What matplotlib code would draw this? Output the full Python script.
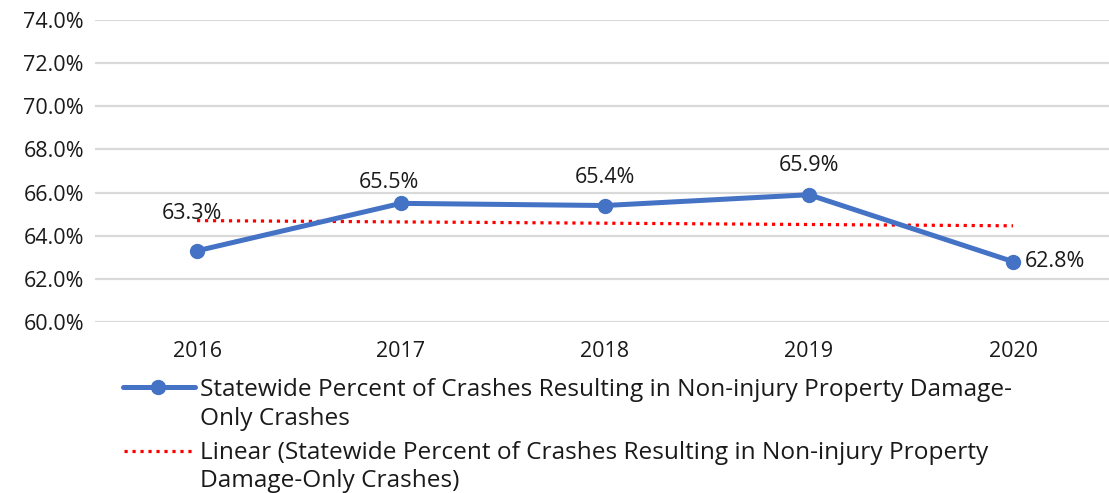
import matplotlib
matplotlib.use('Agg')
import matplotlib.pyplot as plt
from matplotlib.lines import Line2D
import numpy as np

plt.rcParams['font.family'] = ['Open Sans', 'DejaVu Sans']

years = ['2016', '2017', '2018', '2019', '2020']
pct = [63.3, 65.5, 65.4, 65.9, 62.8]
y_ticks = [60, 62, 64, 66, 68, 70, 72, 74]
series_label = ['Statewide Percent of Crashes Resulting in Non-injury Property Damage-',
                'Only Crashes']
trend_label = ['Linear (Statewide Percent of Crashes Resulting in Non-injury Property',
               'Damage-Only Crashes)']

BLUE = '#4472C4'
RED = '#FF0000'
TXT = '#1a1a1a'
DOTS = (0, (1, 1.5))

W, H = 1109, 493
fig = plt.figure(figsize=(W / 100, H / 100), dpi=100)
ax = fig.add_axes([95 / W, 1 - 322 / H, 1020 / W, 302 / H])

x = np.arange(len(years))
ax.plot(x, pct, color=BLUE, linewidth=3.6, marker='o', markersize=10,
        solid_capstyle='round', zorder=3)

# linear trend fitted to the series
coef = np.polyfit(x, pct, 1)
ax.plot(x, np.polyval(coef, x), color=RED, linestyle=DOTS,
        linewidth=2.3, zorder=2)

# label offsets in pixels (dx, dy to baseline)
offsets = [(-5, 32), (-12, 15), (0, 23), (0, 24)]
for i, v in enumerate(pct):
    if i == len(pct) - 1:
        ax.annotate(f'{v:.1f}%', (i, v), xytext=(12, 0), textcoords='offset pixels',
                    ha='left', va='center', fontsize=15.5, color=TXT)
    else:
        dx, dy = offsets[i]
        ax.annotate(f'{v:.1f}%', (i, v), xytext=(dx, dy), textcoords='offset pixels',
                    ha='center', va='baseline', fontsize=15.5, color=TXT)

ax.set_xlim(-0.5, len(years) - 0.5)
ax.set_ylim(60, 74)
ax.set_yticks(y_ticks)
ax.set_yticklabels([f'{t:.1f}%' for t in y_ticks])
ax.set_xticks(x)
ax.set_xticklabels(years)
ax.tick_params(length=0, labelsize=15.5, labelcolor=TXT)
ax.tick_params(axis='x', pad=14)
ax.tick_params(axis='y', pad=8)
ax.grid(True, axis='y', color='#D9D9D9', linewidth=1.6)
ax.set_axisbelow(True)
for s in ax.spines.values():
    s.set_visible(False)

# legend drawn by hand so the handle sits on the first text line
def fy(py):
    return 1 - py / H

fig.add_artist(Line2D([123 / W, 195 / W], [fy(387)] * 2, color=BLUE, linewidth=3.6,
                      solid_capstyle='round', transform=fig.transFigure))
fig.add_artist(Line2D([158 / W], [fy(387)], color=BLUE, marker='o', markersize=10,
                      transform=fig.transFigure))
fig.add_artist(Line2D([124 / W, 195 / W], [fy(451)] * 2, color=RED, linewidth=2.3,
                      linestyle=DOTS, transform=fig.transFigure))

for line_y, txt in zip([387, 416, 450, 478], series_label + trend_label):
    fig.text(200 / W, fy(line_y), txt, ha='left', va='center_baseline',
             fontsize=17.6, color=TXT)

fig.savefig('out.png', dpi=100)
